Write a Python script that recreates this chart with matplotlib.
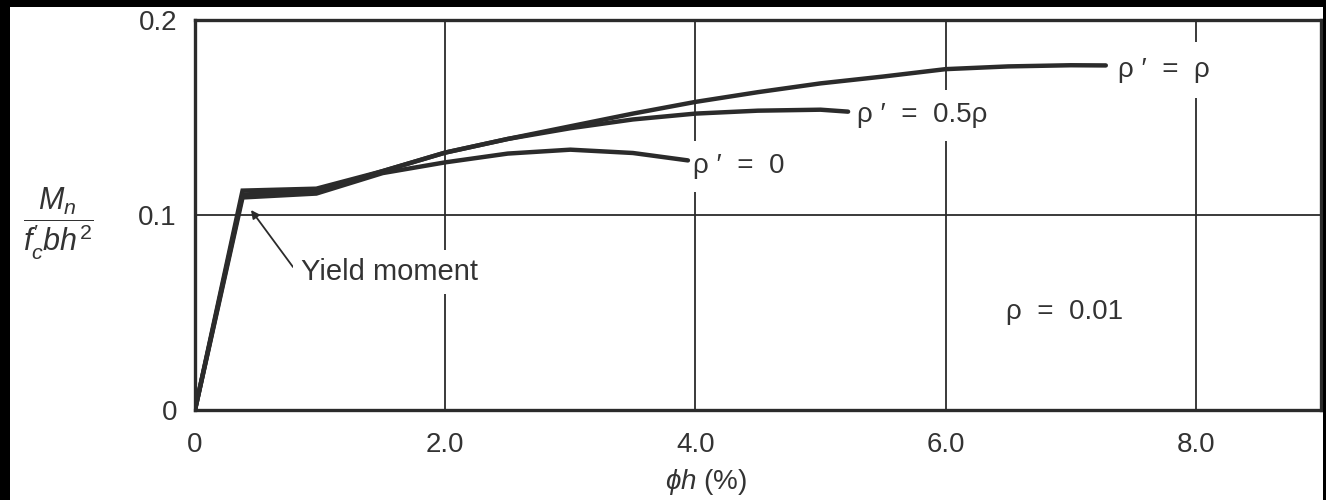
import matplotlib
matplotlib.use("Agg")
import matplotlib.pyplot as plt
from matplotlib.patches import Rectangle

plt.rcParams['font.family'] = ['Liberation Sans', 'DejaVu Sans']
plt.rcParams['mathtext.fontset'] = 'custom'
plt.rcParams['mathtext.rm'] = 'Liberation Sans'
plt.rcParams['mathtext.it'] = 'Liberation Sans:italic'

# ---- data (curvature phi*h in %, normalized moment) ----
x_rho0 = [0.0, 0.38, 0.97, 1.5, 2.0, 2.5, 3.0, 3.5, 3.94]
y_rho0 = [0.0, 0.109, 0.111, 0.1215, 0.127, 0.1315, 0.1335, 0.1318, 0.128]

x_rho05 = [0.0, 0.38, 0.97, 1.5, 2.0, 2.5, 3.0, 3.5, 4.0, 4.5, 5.0, 5.22]
y_rho05 = [0.0, 0.1105, 0.112, 0.1225, 0.132, 0.139, 0.1445, 0.149, 0.152, 0.1535, 0.154, 0.153]

x_rho1 = [0.0, 0.38, 0.97, 1.5, 2.0, 2.5, 3.0, 3.5, 4.0, 4.5, 5.0, 5.5, 6.0, 6.5, 7.0, 7.28]
y_rho1 = [0.0, 0.1125, 0.1135, 0.1225, 0.132, 0.139, 0.1455, 0.152, 0.158, 0.163, 0.1675,
          0.171, 0.1748, 0.1762, 0.1768, 0.1767]

x_ticks = [0, 2, 4, 6, 8]
x_ticklabels = ['0', '2.0', '4.0', '6.0', '8.0']
y_ticks = [0, 0.1, 0.2]
y_ticklabels = ['0', '0.1', '0.2']

W, H = 1326, 500
fig = plt.figure(figsize=(W / 100, H / 100), dpi=100)
fig.patch.set_facecolor('white')

def fx(px):
    return px / W

def fy(py):
    return 1 - py / H

ax = fig.add_axes([fx(195), fy(410), fx(1321) - fx(195), fy(20) - fy(410)])
ax.set_xlim(0, 9)
ax.set_ylim(0, 0.2)

ink = '#2b2b2b'
txt = '#333333'
FS = 20

# grid lines
for gx in [2, 4, 6, 8]:
    ax.axvline(gx, color=ink, lw=1.3, zorder=1)
ax.axhline(0.1, color=ink, lw=1.3, zorder=1)

for s in ax.spines.values():
    s.set_linewidth(2.4)
    s.set_color(ink)

ax.set_xticks(x_ticks)
ax.set_xticklabels(x_ticklabels)
ax.set_yticks(y_ticks)
ax.set_yticklabels(y_ticklabels)
ax.tick_params(length=0, labelsize=FS, colors=txt)
ax.tick_params(axis='x', pad=16)
ax.tick_params(axis='y', pad=13)

lw = 3.2
for xs, ys in [(x_rho1, y_rho1), (x_rho05, y_rho05), (x_rho0, y_rho0)]:
    ax.plot(xs, ys, color=ink, lw=lw, solid_capstyle='round', solid_joinstyle='miter', zorder=3)

bb = dict(facecolor='white', edgecolor='none', pad=9)
tf = fig.transFigure
ax.text(fx(1118), fy(70), "ρ ′  =  ρ", fontsize=FS, color=txt, va='center', ha='left',
        bbox=dict(facecolor='white', edgecolor='none', pad=11), transform=tf, zorder=2)
ax.text(fx(857), fy(115), "ρ ′  =  0.5ρ", fontsize=FS, color=txt, va='center', ha='left',
        bbox=bb, transform=tf, zorder=2)
ax.text(fx(693), fy(166), "ρ ′  =  0", fontsize=FS, color=txt, va='center', ha='left',
        bbox=bb, transform=tf, zorder=2)
ax.text(fx(1006), fy(312), "ρ  =  0.01", fontsize=FS, color=txt, va='center', ha='left',
        transform=tf, zorder=2)

ax.annotate("", xy=(fx(251), fy(210)), xytext=(fx(293), fy(267)),
            xycoords='figure fraction', textcoords='figure fraction',
            arrowprops=dict(arrowstyle='-|>', color=ink, lw=1.3, shrinkA=0, shrinkB=0,
                            mutation_scale=12),
            zorder=2)
ax.text(fx(301), fy(272), "Yield moment", fontsize=21, color=txt, va='center', ha='left',
        bbox=dict(facecolor='white', edgecolor='none', pad=6), transform=tf, zorder=2)

fig.text(fx(706), fy(482), r"$\phi h$ (%)", fontsize=FS, color=txt, ha='center', va='center')

fig.text(fx(58), fy(224), r"$\dfrac{M_n}{f^{\prime}_c bh^2}$", fontsize=22, color=txt,
         ha='center', va='center')

# scanned black borders
fig.patches.append(Rectangle((0, fy(7)), 1, 1 - fy(7), transform=fig.transFigure,
                             facecolor='black', edgecolor='none', zorder=10))
fig.patches.append(Rectangle((0, 0), fx(10), 1, transform=fig.transFigure,
                             facecolor='black', edgecolor='none', zorder=10))
fig.patches.append(Rectangle((fx(1323), 0), 1 - fx(1323), 1, transform=fig.transFigure,
                             facecolor='black', edgecolor='none', zorder=10))

fig.savefig("out.png", dpi=100, facecolor='white')
